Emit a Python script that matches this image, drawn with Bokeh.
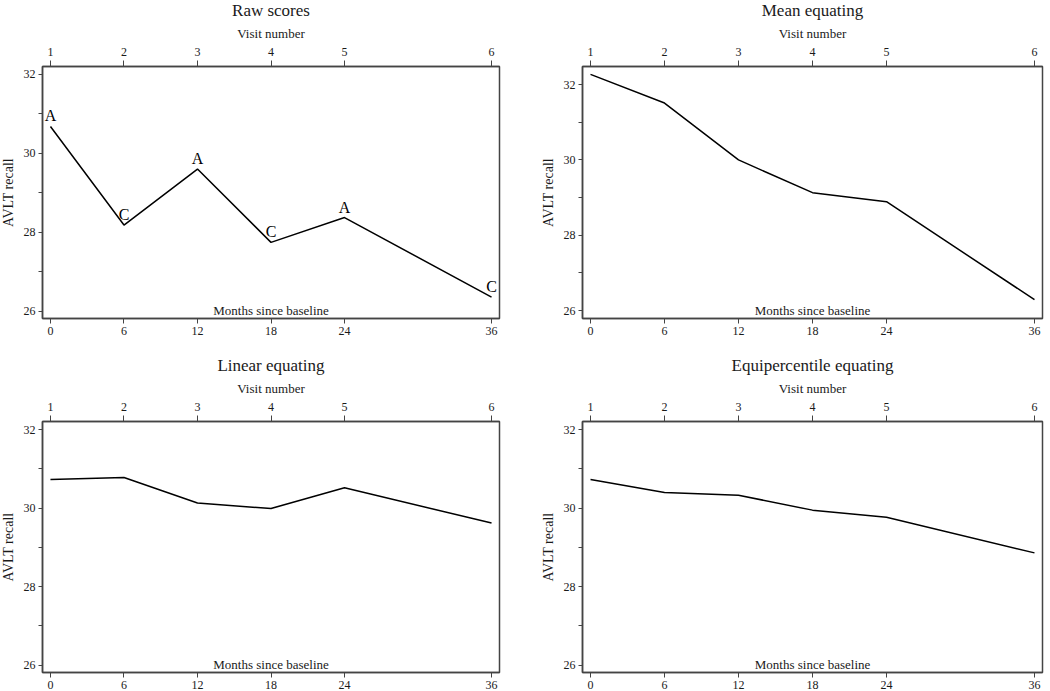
from bokeh.plotting import figure
from bokeh.models import LinearAxis, FixedTicker, Label, ColumnDataSource
from bokeh.layouts import column, row
from bokeh.core.properties import value
from bokeh.embed import file_html
from bokeh.resources import INLINE

# ---- data ----
months = [0, 6, 12, 18, 24, 36]
visit_labels = ["1", "2", "3", "4", "5", "6"]
y_ticks = [26, 28, 30, 32]
y_minor_ticks = [27, 29, 31]
raw_scores = [30.68, 28.18, 29.60, 27.74, 28.37, 26.35]
raw_letters = ["A", "C", "A", "C", "A", "C"]
mean_equating = [32.27, 31.51, 30.00, 29.13, 28.89, 26.29]
linear_equating = [30.73, 30.78, 30.13, 29.99, 30.52, 29.62]
equipercentile_equating = [30.73, 30.40, 30.33, 29.95, 29.77, 28.86]

FONT = "Liberation Serif"
INK = "#1a1a1a"
FRAME = "#444444"


def style_axis(ax, size="12px"):
    ax.axis_line_color = FRAME
    ax.axis_line_width = 1.5
    ax.major_tick_line_color = FRAME
    ax.minor_tick_line_color = FRAME
    ax.major_label_text_font = FONT
    ax.major_label_text_font_size = size
    ax.major_label_text_color = INK
    ax.axis_label_text_font = FONT
    ax.axis_label_text_font_size = "13px"
    ax.axis_label_text_font_style = "normal"
    ax.axis_label_text_color = INK


def make_panel(title, ys, y_range, width, height, bl, br, bt, bb, letters=None):
    p = figure(width=width, height=height, x_range=(-0.65, 36.65), y_range=y_range,
               output_backend="svg", toolbar_location=None,
               min_border_left=bl, min_border_right=br, min_border_top=bt, min_border_bottom=bb,
               x_axis_type=None, y_axis_type=None)
    p.grid.visible = False
    p.outline_line_color = FRAME
    p.outline_line_width = 1.5
    p.background_fill_color = "white"
    p.border_fill_color = "white"

    # left axis
    ya = LinearAxis(ticker=FixedTicker(ticks=y_ticks, minor_ticks=y_minor_ticks),
                    axis_label="AVLT recall")
    style_axis(ya)
    ya.axis_label_text_font_size = "14px"
    ya.major_tick_out = 4
    ya.major_tick_in = 0
    ya.minor_tick_out = 4
    ya.minor_tick_in = 0
    ya.major_label_standoff = 3
    ya.axis_label_standoff = 5
    ya.major_label_orientation = "horizontal"
    p.add_layout(ya, "left")

    # bottom axis: months
    xb = LinearAxis(ticker=FixedTicker(ticks=months, minor_ticks=[]))
    style_axis(xb)
    xb.major_tick_out = 5
    xb.major_tick_in = 0
    xb.major_label_standoff = 3
    p.add_layout(xb, "below")

    # top axis: visit number
    xt = LinearAxis(ticker=FixedTicker(ticks=months, minor_ticks=[]),
                    axis_label="Visit number",
                    major_label_overrides={m: v for m, v in zip(months, visit_labels)})
    style_axis(xt)
    xt.major_tick_out = 6
    xt.major_tick_in = 0
    xt.major_label_standoff = 5
    xt.axis_label_standoff = 4
    p.add_layout(xt, "above")

    # panel title (drawn as the label of an empty axis above the visit axis)
    tt = LinearAxis(ticker=FixedTicker(ticks=[], minor_ticks=[]), axis_label=title)
    tt.axis_line_color = None
    tt.major_tick_line_color = None
    tt.minor_tick_line_color = None
    tt.major_tick_out = 0
    tt.minor_tick_out = 0
    tt.major_label_standoff = 0
    tt.axis_label_standoff = 3
    tt.axis_label_text_font = FONT
    tt.axis_label_text_font_size = "17px"
    tt.axis_label_text_font_style = "normal"
    tt.axis_label_text_color = INK
    p.add_layout(tt, "above")

    src = ColumnDataSource(dict(x=months, y=ys))
    p.line("x", "y", source=src, line_color="black", line_width=1.5)

    if letters is not None:
        lsrc = ColumnDataSource(dict(x=months, y=ys, t=letters))
        p.text("x", "y", text="t", source=lsrc, text_align="center", text_baseline="bottom",
               y_offset=-2, text_font=value(FONT), text_font_size="16px", text_color="black")

    p.add_layout(Label(x=18, y=y_range[0], text="Months since baseline",
                       text_align="center", text_baseline="bottom", y_offset=1,
                       text_font=FONT, text_font_size="13px", text_color=INK))
    return p


p1 = make_panel("Raw scores", raw_scores, (25.81, 32.2), 525, 341, 42, 23, 66, 20, letters=raw_letters)
p2 = make_panel("Mean equating", mean_equating, (25.79, 32.48), 528, 341, 60, 8, 66, 20)
p3 = make_panel("Linear equating", linear_equating, (25.81, 32.21), 525, 353, 42, 23, 83, 19)
p4 = make_panel("Equipercentile equating", equipercentile_equating, (25.81, 32.21), 528, 353, 60, 8, 83, 19)

layout = column(row(p1, p2), row(p3, p4), margin=(-3, 0, 0, -3))

open("out.html", "w").write(file_html(layout, INLINE))
